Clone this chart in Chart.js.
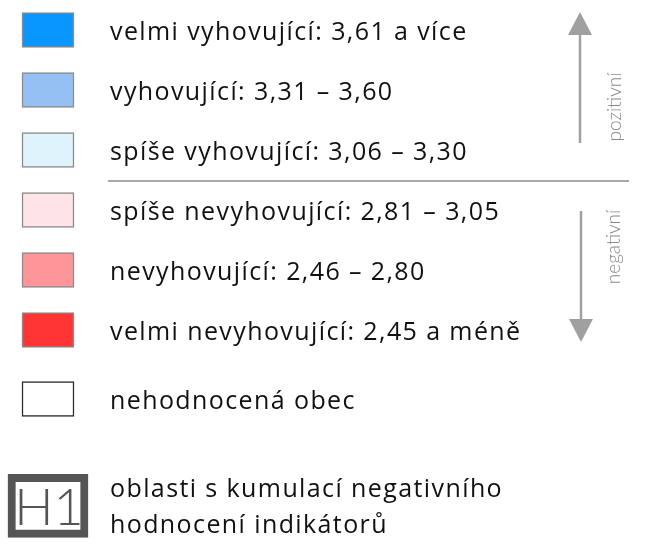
<!DOCTYPE html>
<html>
<head>
<meta charset="utf-8">
<script src="https://cdn.jsdelivr.net/npm/chart.js@4/dist/chart.umd.min.js"></script>
<style>
  body { margin: 0; background: #fff; }
  #wrap { width: 646px; height: 545px; position: relative; }
</style>
</head>
<body>
<div id="wrap"><canvas id="legendChart"></canvas></div>
<script>
// legend classes (values of the evaluation scale)
var classNames = ['velmi vyhovující', 'vyhovující', 'spíše vyhovující',
                  'spíše nevyhovující', 'nevyhovující', 'velmi nevyhovující'];
var classFrom = [3.61, 3.31, 3.06, 2.81, 2.46, null];
var classTo = [null, 3.60, 3.30, 3.05, 2.80, 2.45];
var classColors = ['#0a96ff', '#94c0f3', '#dff3fd', '#fee4e6', '#fe9699', '#ff3434'];
var otherLabel = 'nehodnocená obec';
var areaLabel = ['oblasti s kumulací negativního', 'hodnocení indikátorů'];
var areaCode = 'H1';
var directions = ['pozitivní', 'negativní'];

// number -> "3,61"
var fmt = function(v){
    return v.toFixed(2).replace('.', ',');
}

var rowLabels = classNames.map(function(name, i){
    if (classFrom[i] === null) return name + ': ' + fmt(classTo[i]) + ' a méně';
    if (classTo[i] === null) return name + ': ' + fmt(classFrom[i]) + ' a více';
    return name + ': ' + fmt(classFrom[i]) + ' – ' + fmt(classTo[i]);
});
rowLabels.push(otherLabel);

// row position on the y scale: a small gap before "nehodnocená", a bigger one before H1
var rowPos = function(i){
    if (i === rowLabels.length) return 7.93;
    return i + (i >= classNames.length ? 0.15 : 0);
}

var keyData = [];
var keyFill = [];
var keyBorder = [];
rowLabels.forEach(function(lab, i){
    keyData.push({ x: [0, 1], y: rowPos(i) });
    keyFill.push(i < classNames.length ? classColors[i] : '#ffffff');
    keyBorder.push(i < classNames.length ? '#8a8a8a' : '#2a2a2a');
});
var areaData = [{ x: [-0.27, 1.27], y: rowPos(rowLabels.length) }];

var FONT = '"Open Sans", Lato, sans-serif';

var legendText = {
    id: 'legendText',
    afterDatasetsDraw: function(chart){
        var ctx = chart.ctx;
        var y = chart.scales.y;
        var x = chart.scales.x;
        var textX = x.getPixelForValue(1) + 36;
        var row = function(i){ return y.getPixelForValue(rowPos(i)); };

        ctx.save();
        ctx.fillStyle = '#111111';
        ctx.font = '25px ' + FONT;
        ctx.letterSpacing = '1.4px';
        ctx.textAlign = 'left';
        ctx.textBaseline = 'alphabetic';
        for (var i = 0; i < rowLabels.length; i++){
            ctx.fillText(rowLabels[i], textX, row(i) + 10);
        }
        var last = rowLabels.length;
        ctx.fillText(areaLabel[0], textX, row(last) - 9);
        ctx.fillText(areaLabel[1], textX, row(last) + 27);
        ctx.letterSpacing = '0px';

        // H1 code inside the box
        ctx.fillStyle = '#555555';
        ctx.font = '300 52px Lato, sans-serif';
        ctx.textAlign = 'center';
        ctx.textBaseline = 'middle';
        ctx.fillText(areaCode, x.getPixelForValue(0.5) + 1, row(last) + 2);

        // separator between positive and negative classes
        var sepY = (row(2) + row(3)) / 2 + 1;
        ctx.strokeStyle = '#8c8c8c';
        ctx.lineWidth = 1.5;
        ctx.beginPath();
        ctx.moveTo(textX - 2, sepY);
        ctx.lineTo(629, sepY);
        ctx.stroke();

        // arrows
        var ax = 580;
        ctx.strokeStyle = '#a0a0a0';
        ctx.fillStyle = '#a0a0a0';
        ctx.lineWidth = 2.5;
        var upTip = row(0) - 18, upBottom = row(2) - 7;
        ctx.beginPath();
        ctx.moveTo(ax, upBottom); ctx.lineTo(ax, upTip + 20); ctx.stroke();
        ctx.beginPath();
        ctx.moveTo(ax, upTip); ctx.lineTo(ax - 12, upTip + 23); ctx.lineTo(ax + 12, upTip + 23);
        ctx.closePath(); ctx.fill();

        var dnTop = row(3) + 1, dnTip = row(5) + 12;
        ctx.beginPath();
        ctx.moveTo(ax + 1, dnTop); ctx.lineTo(ax + 1, dnTip - 20); ctx.stroke();
        ctx.beginPath();
        ctx.moveTo(ax + 1, dnTip); ctx.lineTo(ax - 11, dnTip - 23); ctx.lineTo(ax + 13, dnTip - 23);
        ctx.closePath(); ctx.fill();

        // direction labels, rotated
        ctx.fillStyle = '#8a8a8a';
        ctx.font = '300 19px Lato, sans-serif';
        ctx.save();
        ctx.translate(615, row(1) + 17);
        ctx.rotate(-Math.PI / 2);
        ctx.fillText(directions[0], 0, 0);
        ctx.restore();
        ctx.save();
        ctx.translate(614, row(4) - 23);
        ctx.rotate(-Math.PI / 2);
        ctx.fillText(directions[1], 0, 0);
        ctx.restore();

        ctx.restore();
    }
}

var legendChart = new Chart(document.getElementById('legendChart'), {
    type: 'bar',
    data: {
        datasets: [{
            label: 'třídy',
            data: keyData,
            backgroundColor: keyFill,
            borderColor: keyBorder,
            borderWidth: 1.5,
            borderSkipped: false,
            barThickness: 35,
            grouped: false
        }, {
            label: 'oblasti',
            data: areaData,
            backgroundColor: '#ffffff',
            borderColor: '#555555',
            borderWidth: 8,
            borderSkipped: false,
            barThickness: 63,
            grouped: false
        }]
    },
    options: {
        indexAxis: 'y',
        responsive: true,
        maintainAspectRatio: false,
        animation: false,
        layout: { padding: { top: 0, bottom: 5, left: 0, right: 0 } },
        scales: {
            x: { type: 'linear', display: false, min: -22 / 52, max: 12 },
            y: { type: 'linear', display: false, reverse: true, offset: false, min: -0.5, max: 8.5 }
        },
        plugins: {
            legend: { display: false },
            tooltip: { enabled: false }
        }
    },
    plugins: [legendText]
});
</script>
</body>
</html>
